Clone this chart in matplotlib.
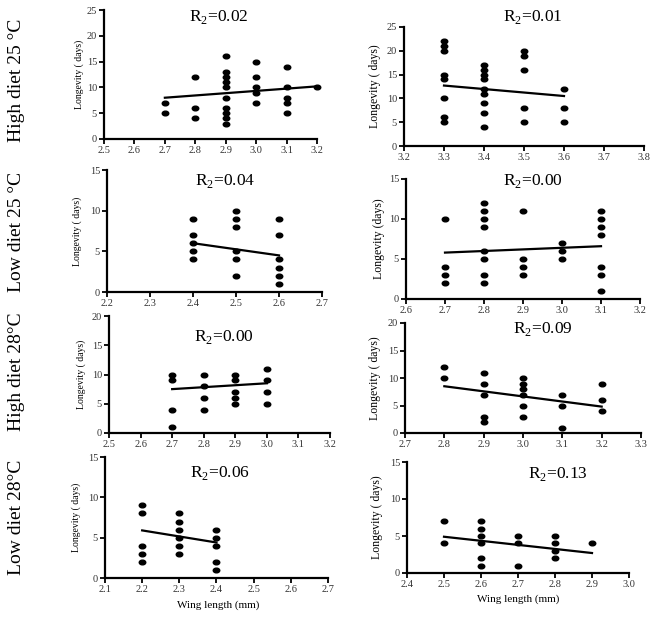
import matplotlib
matplotlib.use("Agg")
import matplotlib.pyplot as plt
from matplotlib.path import Path
from matplotlib.transforms import Affine2D

plt.rcParams['font.family'] = ['Liberation Serif', 'DejaVu Serif']
plt.rcParams['mathtext.fontset'] = 'custom'
plt.rcParams['mathtext.rm'] = 'Liberation Serif'

# ---- data ----
# High diet 25 C
hd25a_x = [2.7, 2.7, 2.8, 2.8, 2.8, 2.9, 2.9, 2.9, 2.9, 2.9, 2.9, 2.9, 2.9, 2.9, 2.9,
           3.0, 3.0, 3.0, 3.0, 3.0, 3.1, 3.1, 3.1, 3.1, 3.1, 3.2]
hd25a_y = [7, 5, 12, 6, 4, 16, 13, 12, 11, 10, 8, 6, 5, 4, 3,
           15, 12, 10, 9, 7, 14, 10, 8, 7, 5, 10]
hd25a_fit = ([2.7, 3.2], [8.0, 10.2])

hd25b_x = [3.3] * 8 + [3.4] * 9 + [3.5] * 5 + [3.6] * 3
hd25b_y = [22, 21, 20, 15, 14, 10, 6, 5,
           17, 16, 15, 14, 12, 11, 9, 7, 4,
           20, 19, 16, 8, 5,
           12, 8, 5]
hd25b_fit = ([3.3, 3.6], [12.7, 10.5])

# Low diet 25 C
ld25a_x = [2.4] * 5 + [2.5] * 6 + [2.6] * 6
ld25a_y = [9, 7, 6, 5, 4,
           10, 9, 8, 5, 4, 2,
           9, 7, 4, 3, 2, 1]
ld25a_fit = ([2.4, 2.6], [6.0, 4.5])

ld25b_x = [2.7] * 4 + [2.8] * 8 + [2.9] * 4 + [3.0] * 3 + [3.1] * 7
ld25b_y = [10, 4, 3, 2,
           12, 11, 10, 9, 6, 5, 3, 2,
           11, 5, 4, 3,
           7, 6, 5,
           11, 10, 9, 8, 4, 3, 1]
ld25b_fit = ([2.7, 3.1], [5.8, 6.6])

# High diet 28 C
hd28a_x = [2.7] * 4 + [2.8] * 4 + [2.9] * 5 + [3.0] * 4
hd28a_y = [10, 9, 4, 1,
           10, 8, 6, 4,
           10, 9, 7, 6, 5,
           11, 9, 7, 5]
hd28a_fit = ([2.7, 3.0], [7.5, 8.5])

hd28b_x = [2.8] * 2 + [2.9] * 5 + [3.0] * 6 + [3.1] * 3 + [3.2] * 3
hd28b_y = [12, 10,
           11, 9, 7, 3, 2,
           10, 9, 8, 7, 5, 3,
           7, 5, 1,
           9, 6, 4]
hd28b_fit = ([2.8, 3.2], [8.5, 4.8])

# Low diet 28 C
ld28a_x = [2.2] * 5 + [2.3] * 6 + [2.4] * 5
ld28a_y = [9, 8, 4, 3, 2,
           8, 7, 6, 5, 4, 3,
           6, 5, 4, 2, 1]
ld28a_fit = ([2.2, 2.4], [5.9, 4.4])

ld28b_x = [2.5] * 2 + [2.6] * 6 + [2.7] * 3 + [2.8] * 4 + [2.9]
ld28b_y = [7, 4,
           7, 6, 5, 4, 2, 1,
           5, 4, 1,
           5, 4, 3, 2,
           4]
ld28b_fit = ([2.5, 2.9], [4.9, 2.7])

r2_labels = ['0.02', '0.01', '0.04', '0.00', '0.00', '0.09', '0.06', '0.13']
row_labels = ['High diet 25 \u00b0C', 'Low diet 25 \u00b0C', 'High diet 28\u00b0C', 'Low diet 28\u00b0C']
ylabels = ['Longevity ( days)', 'Longevity ( days)', 'Longevity ( days)', 'Longevity (days)',
           'Longevity ( days)', 'Longevity ( days)', 'Longevity ( days)', 'Longevity ( days)']
xlims = [(2.5, 3.2), (3.2, 3.8), (2.2, 2.7), (2.6, 3.2), (2.5, 3.2), (2.7, 3.3), (2.1, 2.7), (2.4, 3.0)]
ymaxs = [25, 25, 15, 15, 20, 20, 15, 15]

panels = [(hd25a_x, hd25a_y, hd25a_fit), (hd25b_x, hd25b_y, hd25b_fit),
          (ld25a_x, ld25a_y, ld25a_fit), (ld25b_x, ld25b_y, ld25b_fit),
          (hd28a_x, hd28a_y, hd28a_fit), (hd28b_x, hd28b_y, hd28b_fit),
          (ld28a_x, ld28a_y, ld28a_fit), (ld28b_x, ld28b_y, ld28b_fit)]

# ---- layout (pixels: left, right, top, bottom) ----
W, H = 653, 629
boxes = [(104, 317, 10, 139), (404, 644, 27, 146),
         (107, 322, 170, 292), (406, 640, 179, 299),
         (109, 330, 316, 433), (405, 641, 323, 433),
         (105, 328, 457, 578), (407, 629, 462, 573)]
title_pos = [(219, 17), (533, 17), (225, 181), (533, 181),
             (224, 337), (543, 329), (220, 473), (558, 474)]
ylabel_x = [79, 375, 77, 379, 81, 375, 76, 377]
ylabel_size = [7, 8.5, 7, 8.5, 7, 8.5, 7, 8.5]

# flattened dots, as in the original
dot = Path.unit_circle().transformed(Affine2D().scale(1, 0.72))

fig = plt.figure(figsize=(W / 100, H / 100), dpi=100)

for i, (xs, ys, fit) in enumerate(panels):
    l, r, t, b = boxes[i]
    ax = fig.add_axes([l / W, 1 - b / H, (r - l) / W, (b - t) / H])
    ax.scatter(xs, ys, s=22, marker=dot, color='black', zorder=3, clip_on=False)
    ax.plot(fit[0], fit[1], color='black', lw=1.6, zorder=2)
    x0, x1 = xlims[i]
    ax.set_xlim(x0, x1)
    ax.set_ylim(0, ymaxs[i])
    ax.set_xticks([round(x0 + 0.1 * k, 1) for k in range(int(round((x1 - x0) * 10)) + 1)])
    ax.set_xticklabels(['%.1f' % v for v in ax.get_xticks()])
    ax.set_yticks(range(0, ymaxs[i] + 1, 5))
    for s in ['top', 'right']:
        ax.spines[s].set_visible(False)
    for s in ['left', 'bottom']:
        ax.spines[s].set_linewidth(1.6)
    ax.tick_params(width=1.3, length=3.5, labelsize=7.5, labelcolor='#333333', pad=1.5)
    fig.text(ylabel_x[i] / W, 1 - (t + b) / 2 / H, ylabels[i], rotation=90,
             ha='center', va='center', fontsize=ylabel_size[i])
    tx, ty = title_pos[i]
    fig.text(tx / W, 1 - ty / H, 'R$_{2}$=' + r2_labels[i], ha='center', va='center',
             fontsize=12.5)

for j, lab in enumerate(row_labels):
    cy = [80, 232, 372, 517][j]
    fig.text(17 / W, 1 - cy / H, lab, rotation=90, ha='center', va='center', fontsize=14)

fig.text(218 / W, 1 - 605 / H, 'Wing length (mm)', ha='center', va='center', fontsize=8)
fig.text(518 / W, 1 - 599 / H, 'Wing length (mm)', ha='center', va='center', fontsize=8)

fig.savefig('out.png', dpi=100)
